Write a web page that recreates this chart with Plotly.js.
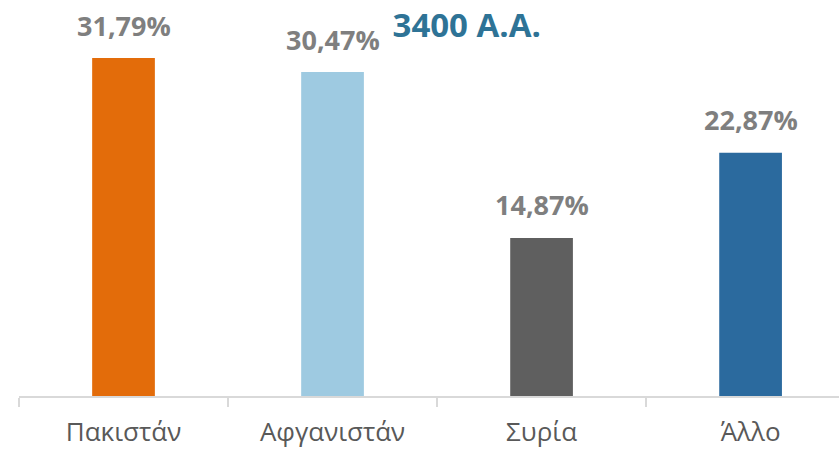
<!DOCTYPE html>
<html>
<head>
<meta charset="utf-8">
<script src="https://cdn.plot.ly/plotly-3.0.1.min.js"></script>
<style>html,body{margin:0;padding:0;overflow:hidden;background:#fff;}#chart{width:839px;height:449px;}</style>
</head>
<body>
<div id="chart"></div>
<script>
const categories = ["Πακιστάν", "Αφγανιστάν", "Συρία", "Άλλο"];
const values = [31.79, 30.47, 14.87, 22.87];
const valueLabels = ["31,79%", "30,47%", "14,87%", "22,87%"];
const barColors = ["#E36C0A", "#9ECAE1", "#5F5F5F", "#2B6A9E"];
const chartTitle = "3400 Α.Α.";

const trace = {
  type: "bar",
  x: categories,
  y: values,
  marker: {color: barColors, line: {width: 0}},
  hoverinfo: "skip",
  showlegend: false
};

const annotations = categories.map((c, i) => ({
  x: c, y: values[i], xref: "x", yref: "y",
  text: valueLabels[i], showarrow: false,
  yanchor: "middle", yshift: 33,
  font: {family: "Open Sans", size: 27, color: "#7F7F7F", weight: "bold"}
}));

const layout = {
  width: 839, height: 449,
  margin: {l: 19, r: 0, t: 0, b: 53, pad: 0},
  paper_bgcolor: "#ffffff", plot_bgcolor: "#ffffff",
  bargap: 0.7,
  title: {
    text: "<b>" + chartTitle + "</b>",
    xref: "paper", x: 0.546, xanchor: "center",
    yref: "container", y: 0.944, yanchor: "middle",
    font: {family: "Open Sans", size: 33, color: "#2E7396"}
  },
  xaxis: {
    type: "category",
    range: [-0.5, 3.423],
    showline: true, linecolor: "#D9D9D9", linewidth: 1.5,
    ticks: "outside", tickson: "boundaries", ticklen: 9, tickcolor: "#D9D9D9", tickwidth: 1.5,
    ticklabelstandoff: 12,
    tickfont: {family: "Open Sans", size: 26, color: "#595959"},
    showgrid: false, zeroline: false, fixedrange: true
  },
  yaxis: {
    range: [0, 37.25],
    visible: false, showgrid: false, zeroline: false, fixedrange: true
  },
  annotations: annotations
};

Plotly.newPlot("chart", [trace], layout, {displayModeBar: false, staticPlot: true});
</script>
</body>
</html>
